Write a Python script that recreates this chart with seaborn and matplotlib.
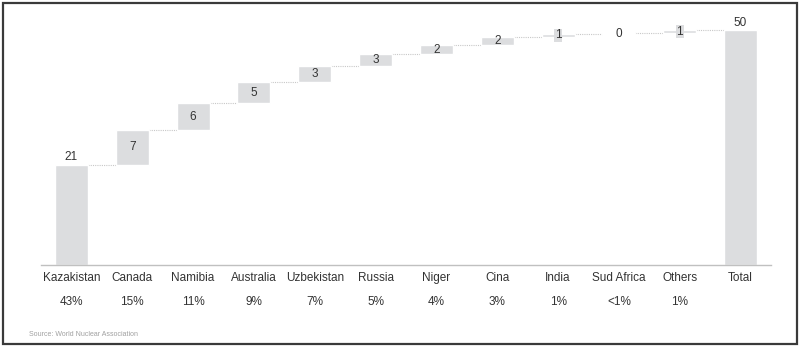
import matplotlib
matplotlib.use("Agg")
import matplotlib.pyplot as plt
import matplotlib.patches as mpatches
from matplotlib import font_manager
import seaborn as sns
import pandas as pd
import numpy as np

countries = ["Kazakistan", "Canada", "Namibia", "Australia", "Uzbekistan", "Russia",
             "Niger", "Cina", "India", "Sud Africa", "Others", "Total"]
values = [21.2, 7.4, 5.6, 4.6, 3.3, 2.5, 2.0, 1.7, 0.6, 0.2, 0.6]
value_labels = ["21", "7", "6", "5", "3", "3", "2", "2", "1", "0", "1", "50"]
shares = ["43%", "15%", "11%", "9%", "7%", "5%", "4%", "3%", "1%", "<1%", "1%", ""]
source = "Source: World Nuclear Association"

sns.set_theme(style="white")
names = {f.name for f in font_manager.fontManager.ttflist}
fam = "Liberation Sans Narrow" if "Liberation Sans Narrow" in names else "Liberation Sans"
plt.rcParams["font.family"] = [fam, "DejaVu Sans"]

total = sum(values)
tops = list(np.cumsum(values)) + [total]
bottoms = [0.0] + list(np.cumsum(values)[:-1]) + [0.0]
heights = [t - b for t, b in zip(tops, bottoms)]
df = pd.DataFrame({"country": countries, "height": heights, "bottom": bottoms})

fig = plt.figure(figsize=(8, 3.48), dpi=100)
ax = fig.add_axes([41 / 800, (348 - 265) / 348, 730 / 800, 255 / 348])

bar_color = "#dcdddf"
sns.barplot(data=df, x="country", y="height", bottom=np.array(bottoms), color=bar_color,
            width=0.54, saturation=1, ax=ax, errorbar=None, zorder=2)
ax.set_xlim(-0.5, 11.5)
ax.set_ylim(0, 54)

# connectors
hw = 0.27
for i in range(len(countries) - 1):
    ax.plot([i + hw, i + 1 - hw], [tops[i], tops[i]], color="#c8c8c8", lw=0.8,
            ls=(0, (1, 1)), zorder=1)

txt = "#333333"
for i, lab in enumerate(value_labels):
    if i == 0 or i == len(countries) - 1:
        ax.text(i, tops[i] + 1.6, lab, ha="center", va="center", fontsize=8.5, color=txt)
    elif i in (8, 10):
        ax.text(i, (tops[i] + bottoms[i]) / 2, lab, ha="center", va="center", fontsize=8.5,
                color=txt, zorder=4,
                bbox=dict(boxstyle="square,pad=0.05", fc=bar_color, ec="none"))
    elif i == 9:
        ax.text(i, (tops[i] + bottoms[i]) / 2, lab, ha="center", va="center", fontsize=8.5,
                color=txt, zorder=4,
                bbox=dict(boxstyle="square,pad=0.05", fc="white", ec="none"))
    else:
        ax.text(i, (tops[i] + bottoms[i]) / 2, lab, ha="center", va="center", fontsize=8.5,
                color=txt, zorder=4)

for i, s in enumerate(shares):
    ax.text(i, -0.145, s, ha="center", va="center", fontsize=8.5, color=txt,
            transform=ax.get_xaxis_transform())

ax.set_xlabel("")
ax.set_ylabel("")
ax.set_yticks([])
ax.tick_params(axis="x", length=0, pad=5, labelsize=8.5, labelcolor=txt)
for sp in ["top", "left", "right"]:
    ax.spines[sp].set_visible(False)
ax.spines["bottom"].set_color("#c0c0c0")
ax.spines["bottom"].set_linewidth(1.0)

fig.text(29 / 800, 1 - 334 / 348, source, fontsize=5.0, color="#a0a0a0", va="center")
fig.patches.append(mpatches.Rectangle((3 / 800, 4 / 348), 794 / 800, 341 / 348,
                                      transform=fig.transFigure, fill=False,
                                      ec="#3a3a3a", lw=1.6))

fig.savefig("out.png", dpi=100)
